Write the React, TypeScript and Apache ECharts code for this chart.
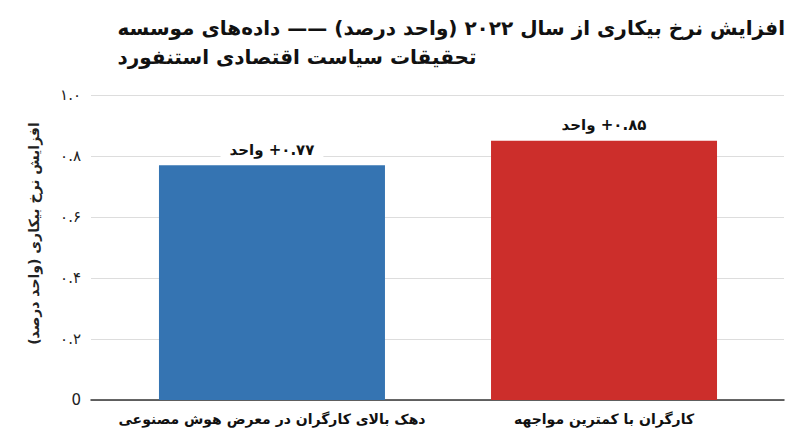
import React, { useEffect, useRef } from "react";
import * as echarts from "echarts";

const categories = [
  "دهک بالای کارگران در معرض هوش مصنوعی",
  "کارگران با کمترین مواجهه",
];
const values = [0.77, 0.85];
const barLabels = ["واحد\u200E +۰.۷۷", "واحد\u200E +۰.۸۵"];
const barColors = ["#3574b2", "#cc2e2b"];
const yTicks = [0, 0.2, 0.4, 0.6, 0.8, 1.0];
const yTickLabels = ["0", "۰.۲", "۰.۴", "۰.۶", "۰.۸", "۱.۰"];
const titleText =
  "افزایش نرخ بیکاری از سال ۲۰۲۲ (واحد درصد) —— داده‌های موسسه\nتحقیقات سیاست اقتصادی استنفورد";
const yName = "افزایش نرخ بیکاری (واحد درصد)\u200F";

const FONT = "'DejaVu Sans', 'Noto Sans', sans-serif";

export default function App() {
  const ref = useRef<HTMLDivElement>(null);
  useEffect(() => {
    document.body.style.margin = "0";
    const chart = echarts.init(ref.current!, undefined, { renderer: "svg" });
    chart.setOption({
      animation: false,
      backgroundColor: "#ffffff",
      graphic: [
        {
          type: "text",
          right: 15,
          top: 13,
          style: {
            text: titleText,
            align: "right",
            fontFamily: FONT,
            fontSize: 20,
            fontWeight: "bold",
            fill: "#111",
            lineHeight: 29,
          },
        },
      ],
      grid: { left: 91, right: 16, top: 95, bottom: 47 },
      xAxis: {
        type: "value",
        min: -0.545,
        max: 1.542,
        axisLine: { show: true, onZero: false, lineStyle: { color: "#333", width: 1.5 } },
        axisTick: { show: false },
        splitLine: { show: false },
        axisLabel: {
          customValues: [0, 1],
          formatter: (v: number) => categories[Math.round(v)] ?? "",
          fontFamily: FONT,
          fontSize: 14,
          fontWeight: "bold",
          color: "#111",
          margin: 12,
        },
      },
      yAxis: {
        type: "value",
        min: 0,
        max: 1,
        interval: 0.2,
        name: yName,
        nameLocation: "middle",
        nameRotate: 90,
        nameGap: 50,
        nameTextStyle: {
          fontFamily: FONT,
          fontSize: 14,
          fontWeight: "bold",
          color: "#222",
          padding: [0, 0, 0, 28],
        },
        axisLine: { show: false },
        axisTick: { show: false },
        splitLine: { lineStyle: { color: "#dddddd", width: 1.2 } },
        axisLabel: {
          formatter: (v: number) => {
            const i = yTicks.findIndex((t) => Math.abs(t - v) < 1e-6);
            return i >= 0 ? yTickLabels[i] : "";
          },
          fontFamily: FONT,
          fontSize: 15,
          color: "#222",
          margin: 10,
        },
      },
      series: [
        {
          type: "bar",
          barWidth: 226,
          data: values.map((v, i) => ({
            value: [i, v],
            itemStyle: { color: barColors[i] },
            label: { formatter: barLabels[i] },
          })),
          label: {
            show: true,
            position: "top",
            distance: 6,
            fontFamily: FONT,
            fontSize: 15,
            fontWeight: "bold",
            color: "#111",
            backgroundColor: "#ffffff",
            padding: [2, 9],
          },
        },
      ],
    });
    return () => chart.dispose();
  }, []);
  return <div ref={ref} style={{ width: 800, height: 447 }} />;
}
